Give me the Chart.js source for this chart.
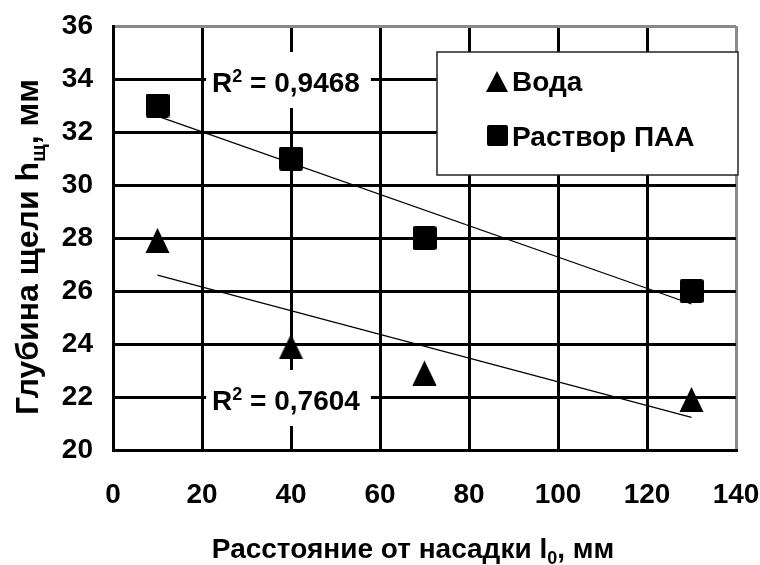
<!DOCTYPE html>
<html><head><meta charset="utf-8">
<script src="https://cdn.jsdelivr.net/npm/chart.js@4/dist/chart.umd.min.js"></script>
<style>html,body{margin:0;padding:0;background:#fff}#wrap{width:760px;height:565px}</style>
</head><body><div id="wrap"><canvas id="c" width="760" height="565"></canvas></div>
<script>
// ---- data ----
const xValues = [10, 40, 70, 130];
const waterValues = [28, 24, 23, 22];
const paaValues = [33, 31, 28, 26];
const trendX = [10, 130];
const waterTrend = [26.6, 21.23];
const paaTrend = [32.6, 25.51];
const seriesNames = ['Вода', 'Раствор ПАА'];
const r2Values = ['0,9468', '0,7604'];
const r2AnchorX = 40;
const r2AnchorY = [34, 22];
const xTitleParts = ['Расстояние от насадки l', '0', ', мм'];
const yTitleParts = ['Глубина щели h', 'щ', ', мм'];

const FAMILY = "'Liberation Sans', Arial, sans-serif";
const F = (s) => 'bold ' + s + 'px ' + FAMILY;

function pts(xs, ys) { return xs.map((x, i) => ({ x: x, y: ys[i] })); }

// marker images
function makeTriangle() {
  const c = document.createElement('canvas'); c.width = 25; c.height = 30;
  const g = c.getContext('2d'); g.fillStyle = '#000';
  g.beginPath(); g.moveTo(12.5, 5); g.lineTo(0.5, 30); g.lineTo(24.5, 30); g.closePath(); g.fill();
  return c;
}
function roundRect(g, x, y, w, h, r) {
  g.beginPath();
  g.moveTo(x + r, y); g.lineTo(x + w - r, y); g.quadraticCurveTo(x + w, y, x + w, y + r);
  g.lineTo(x + w, y + h - r); g.quadraticCurveTo(x + w, y + h, x + w - r, y + h);
  g.lineTo(x + r, y + h); g.quadraticCurveTo(x, y + h, x, y + h - r);
  g.lineTo(x, y + r); g.quadraticCurveTo(x, y, x + r, y); g.closePath();
}
function makeSquare() {
  const c = document.createElement('canvas'); c.width = 24; c.height = 24;
  const g = c.getContext('2d'); g.fillStyle = '#000';
  roundRect(g, 0, 0, 24, 24, 2.5); g.fill();
  return c;
}
const triImg = makeTriangle();
const sqImg = makeSquare();

function drawParts(ctx, parts, x, y, big, small, subShift) {
  ctx.font = F(big); const w0 = ctx.measureText(parts[0]).width;
  ctx.font = F(small); const w1 = ctx.measureText(parts[1]).width;
  ctx.font = F(big); const w2 = ctx.measureText(parts[2]).width;
  const total = w0 + w1 + w2;
  const sx = x - total / 2;
  ctx.textAlign = 'left'; ctx.textBaseline = 'alphabetic';
  ctx.font = F(big); ctx.fillText(parts[0], sx, y);
  ctx.font = F(small); ctx.fillText(parts[1], sx + w0, y + subShift);
  ctx.font = F(big); ctx.fillText(parts[2], sx + w0 + w1, y);
  return total;
}
function partsWidth(ctx, parts, big, small) {
  ctx.font = F(big); let w = ctx.measureText(parts[0]).width + ctx.measureText(parts[2]).width;
  ctx.font = F(small); w += ctx.measureText(parts[1]).width;
  return w;
}

const overlay = {
  id: 'overlay',
  afterDraw(chart) {
    const ctx = chart.ctx, xs = chart.scales.x, ys = chart.scales.y, ca = chart.chartArea;
    ctx.save();
    // R² labels
    r2Values.forEach((v, i) => {
      const cx = xs.getPixelForValue(r2AnchorX) - 5;
      const cy = ys.getPixelForValue(r2AnchorY[i]);
      const parts = ['R', '2', ' = ' + v];
      const total = partsWidth(ctx, parts, 28, 18);
      ctx.fillStyle = '#fff';
      ctx.fillRect(cx - total / 2 - 6, cy - 27, total + 17, 56);
      ctx.fillStyle = '#000';
      drawParts(ctx, parts, cx, cy + 13, 28, 18, -10);
    });
    // legend box
    const lx = ca.right - 299, ly = ca.top + 26, lw = 301, lh = 123;
    ctx.fillStyle = '#fff';
    ctx.fillRect(lx, ly, lw, lh);
    ctx.strokeStyle = '#222'; ctx.lineWidth = 1.5;
    ctx.strokeRect(lx, ly, lw, lh);
    ctx.fillStyle = '#000';
    // triangle marker (Вода)
    ctx.beginPath();
    ctx.moveTo(lx + 60, ly + 19); ctx.lineTo(lx + 49, ly + 40); ctx.lineTo(lx + 71, ly + 40); ctx.closePath(); ctx.fill();
    // square marker (Раствор ПАА)
    roundRect(ctx, lx + 50, ly + 73, 21, 21, 2); ctx.fill();
    ctx.font = F(28); ctx.textAlign = 'left'; ctx.textBaseline = 'alphabetic';
    ctx.fillText(seriesNames[0], lx + 75, ly + 39);
    ctx.fillText(seriesNames[1], lx + 75, ly + 94);
    // axis titles
    drawParts(ctx, xTitleParts, 413, 558, 28, 18, 6);
    ctx.save();
    ctx.translate(38, 247);
    ctx.rotate(-Math.PI / 2);
    drawParts(ctx, yTitleParts, 0, 0, 32, 21, 7);
    ctx.restore();
    ctx.restore();
  }
};

const edgeColor = (max) => (c) => (c.tick && c.tick.value === max ? '#8a8a8a' : '#000');
const noPad = (s) => { s.paddingLeft = 0; s.paddingRight = 0; s.paddingTop = 0; s.paddingBottom = 0; };

new Chart(document.getElementById('c'), {
  type: 'scatter',
  data: {
    datasets: [
      { label: seriesNames[1], data: pts(xValues, paaValues), pointStyle: sqImg, pointRadius: 12, pointHoverRadius: 12,
        backgroundColor: '#000', borderColor: '#000', borderWidth: 0, showLine: false },
      { label: seriesNames[0], data: pts(xValues, waterValues), pointStyle: triImg, pointRadius: 12, pointHoverRadius: 12,
        backgroundColor: '#000', borderColor: '#000', borderWidth: 0, showLine: false },
      { label: 'trend1', data: pts(trendX, paaTrend), showLine: true, pointRadius: 0, borderColor: '#000', borderWidth: 1.2, fill: false },
      { label: 'trend2', data: pts(trendX, waterTrend), showLine: true, pointRadius: 0, borderColor: '#000', borderWidth: 1.2, fill: false }
    ]
  },
  options: {
    responsive: false,
    animation: false,
    devicePixelRatio: 1,
    layout: { padding: { top: 26, right: 24, left: 0, bottom: 0 } },
    plugins: { legend: { display: false }, tooltip: { enabled: false } },
    scales: {
      x: {
        type: 'linear', min: 0, max: 140,
        ticks: { stepSize: 20, color: '#000', font: { family: FAMILY, size: 28, weight: 'bold' }, padding: 28, maxRotation: 0 },
        grid: { color: edgeColor(140), lineWidth: 3, drawTicks: false },
        border: { color: '#000', width: 3 },
        afterFit: (s) => { s.height = 115; noPad(s); }
      },
      y: {
        type: 'linear', min: 20, max: 36,
        ticks: { stepSize: 2, color: '#000', font: { family: FAMILY, size: 28, weight: 'bold' }, padding: 20 },
        grid: { color: edgeColor(36), lineWidth: 3, drawTicks: false },
        border: { color: '#000', width: 3 },
        afterFit: (s) => { s.width = 113; noPad(s); }
      }
    }
  },
  plugins: [overlay]
});
</script>
</body></html>
